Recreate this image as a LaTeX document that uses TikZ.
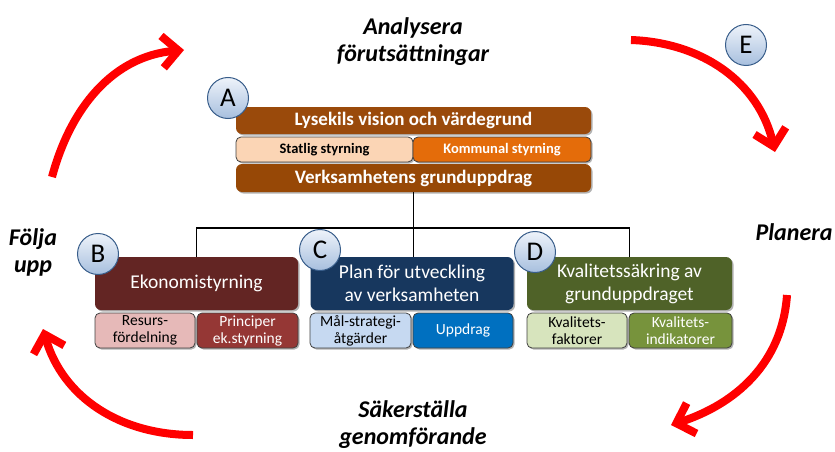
\documentclass[tikz,border=0pt]{standalone}
\usepackage{fontspec}
\setmainfont{Carlito}
\usetikzlibrary{arrows.meta,shadows}
\definecolor{brownA}{HTML}{9A4A0B}
\definecolor{brownB}{HTML}{974806}
\definecolor{statlig}{HTML}{FBD5B5}
\definecolor{kommunal}{HTML}{E46C0A}
\definecolor{redB}{HTML}{632523}
\definecolor{resurs}{HTML}{E6B9B8}
\definecolor{princ}{HTML}{953735}
\definecolor{blueC}{HTML}{17375E}
\definecolor{malc}{HTML}{C6D9F1}
\definecolor{uppd}{HTML}{0070C0}
\definecolor{greenD}{HTML}{4F6228}
\definecolor{kfakt}{HTML}{D7E4BD}
\definecolor{kind}{HTML}{77933C}
\definecolor{circedge}{HTML}{385D8A}
\definecolor{circtop}{HTML}{EEF3FA}
\definecolor{circbot}{HTML}{A7BFDE}
\tikzset{
  boxshadow/.style={drop shadow={shadow xshift=1.5pt,shadow yshift=-1.5pt,opacity=0.3,fill=black}},
  mainbox/.style={rounded corners=6pt,inner sep=0pt,align=center,text=white,boxshadow},
  subbox/.style={rounded corners=5pt,inner sep=0pt,align=center,draw=black!75,line width=0.8pt,
    minimum height=35pt,font=\fontsize{15.5}{17}\selectfont,boxshadow},
  bigrow/.style={mainbox,minimum height=53pt,font=\fontsize{19.5}{23}\selectfont},
  letter/.style={circle,draw=circedge,line width=1pt,minimum size=41pt,inner sep=0pt,
    top color=circtop,bottom color=circbot,font=\fontsize{27}{27}\selectfont},
  redarrow/.style={draw=red,line width=8pt,-{Straight Barb[length=16pt,width=32pt]}},
  outer/.style={align=center,font=\fontsize{24}{27}\selectfont\bfseries\itshape},
  conn/.style={draw=black,line width=1.8pt}
}
\begin{document}
\begin{tikzpicture}[x=1pt,y=1pt]
\useasboundingbox (0,0) rectangle (835,451);
% cycle arrows
\coordinate (tlS) at (52,274);
\coordinate (tlE) at (184,401);
\coordinate (trS) at (631,411);
\coordinate (trE) at (775,299);
\coordinate (brS) at (787,156);
\coordinate (brE) at (671,26);
\coordinate (blS) at (193,16);
\coordinate (blE) at (43,122);
\draw[redarrow] (tlS) to[out=75,in=185] (tlE);
\draw[redarrow] (trS) to[out=-2,in=103] (trE);
\draw[redarrow] (brS) to[out=-94,in=18] (brE);
\draw[redarrow] (blS) to[out=180,in=-74] (blE);
% outer labels
\node[outer] (ana) at (413,409.5) {Analysera\\förutsättningar};
\node[outer] (folj) at (33,199) {Följa\\upp};
\node[outer] (plan) at (794,219) {Planera};
\node[outer] (sak) at (413,26) {Säkerställa\\genomförande};
% A block
\node[mainbox,fill=brownA,minimum width=355pt,minimum height=27pt,font=\fontsize{19}{20}\selectfont\bfseries] (lys) at (413.5,330.5) {Lysekils vision och värdegrund};
\node[subbox,fill=statlig,minimum width=177pt,minimum height=25pt,font=\fontsize{14.5}{16}\selectfont\bfseries] (stat) at (324.5,301.5) {Statlig styrning};
\node[subbox,fill=kommunal,text=white,minimum width=178pt,minimum height=25pt,font=\fontsize{14.5}{16}\selectfont\bfseries] (komm) at (502,301.5) {Kommunal styrning};
\node[mainbox,fill=brownB,minimum width=355pt,minimum height=28pt,font=\fontsize{19}{20}\selectfont\bfseries] (verks) at (413.5,273) {Verksamhetens grunduppdrag};
% main row
\node[bigrow,fill=redB,minimum width=203pt] (bmain) at (196.5,167.5) {Ekonomistyrning};
\node[bigrow,fill=blueC,minimum width=203pt] (cmain) at (412,167.5) {Plan för utveckling\\av verksamheten};
\node[bigrow,fill=greenD,minimum width=205pt] (dmain) at (629.5,167.5) {Kvalitetssäkring av\\grunduppdraget};
% sub row
\node[subbox,fill=resurs,minimum width=100pt] (resurs) at (145,120.5) {Resurs-\\fördelning};
\node[subbox,fill=princ,text=white,minimum width=101pt] (princ) at (247.5,120.5) {Principer\\ek.styrning};
\node[subbox,fill=malc,minimum width=101pt] (mal) at (360.5,120.5) {Mål-strategi-\\åtgärder};
\node[subbox,fill=uppd,text=white,minimum width=100pt] (uppd) at (463,120.5) {Uppdrag};
\node[subbox,fill=kfakt,minimum width=100pt] (kfakt) at (577,120.5) {Kvalitets-\\faktorer};
\node[subbox,fill=kind,text=white,minimum width=103pt] (kind) at (680.5,120.5) {Kvalitets-\\indikatorer};
% connectors
\coordinate (bus) at (413.5,223);
\draw[conn] (verks.south) -- (bus);
\draw[conn] (bmain.north) |- (bus) -| (dmain.north);
\draw[conn] (bus) -- (bus |- cmain.north);
% letters
\node[letter] (la) at (228,353) {A};
\node[letter] (lb) at (98,197) {B};
\node[letter] (lc) at (320,201) {C};
\node[letter] (ld) at (535,199) {D};
\node[letter] (le) at (746,406) {E};
\end{tikzpicture}
\end{document}
